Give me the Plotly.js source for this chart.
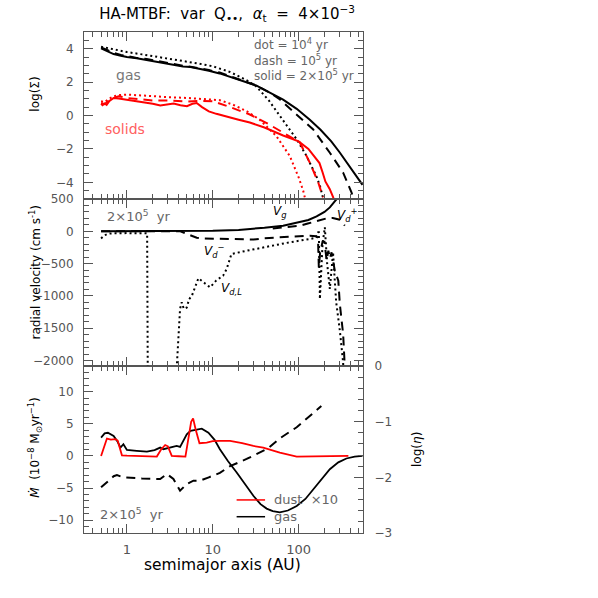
<!DOCTYPE html>
<html>
<head>
<meta charset="utf-8">
<script src="https://cdn.plot.ly/plotly-3.0.1.min.js"></script>
<style>
  body { margin: 0; background: #fff; }
  #chart { width: 598px; height: 598px; }
</style>
</head>
<body>
<div id="chart"></div>
<script>
// ---- top panel: log(Sigma), gas (black) and solids (red) at three times ----
const sigGasSolidX = [0.5, 0.6, 0.7, 0.85, 1, 1.3, 1.7, 2.2, 2.8, 3.5, 4.5, 5.5, 7, 9, 12, 16, 22, 32, 45, 66, 95, 135, 180, 240, 300, 380, 450, 555];
const sigGasSolidY = [4.02, 3.85, 3.68, 3.58, 3.5, 3.43, 3.32, 3.22, 3.12, 3.0, 2.93, 2.9, 2.8, 2.68, 2.52, 2.3, 2.08, 1.8, 1.4, 0.95, 0.4, -0.25, -0.85, -1.55, -2.2, -2.95, -3.5, -4.15];
const sigGasDashX = [0.5, 0.6, 0.7, 0.85, 1, 1.3, 1.7, 2.2, 2.8, 3.5, 4.5, 5.5, 7, 9, 12, 16, 22, 32, 45, 60, 95, 148, 231, 330, 414, 440];
const sigGasDashY = [4.08, 3.9, 3.75, 3.62, 3.55, 3.45, 3.38, 3.27, 3.15, 3.05, 2.98, 2.92, 2.83, 2.72, 2.57, 2.35, 2.1, 1.8, 1.4, 0.98, 0.05, -0.84, -2.23, -3.42, -4.62, -5.1];
const sigGasDotX = [0.5, 0.7, 1, 1.5, 2, 3, 5, 7, 10, 16, 25, 32, 45, 60, 80, 95, 120, 135, 160, 177, 195];
const sigGasDotY = [4.12, 3.95, 3.8, 3.66, 3.56, 3.42, 3.22, 3.1, 2.95, 2.6, 2.1, 1.75, 0.9, 0.0, -0.9, -1.43, -2.3, -2.82, -3.6, -4.2, -5.05];

const sigDustSolidX = [0.5, 0.52, 0.55, 0.58, 0.62, 0.7, 0.8, 1, 1.5, 2, 2.45, 3, 3.5, 4.2, 5, 5.8, 6.5, 7.5, 9, 11, 15, 20, 27, 40, 66, 100, 130, 160, 175, 190, 205, 230, 255];
const sigDustSolidY = [0.7, 0.62, 0.72, 0.64, 0.85, 1.05, 1.02, 0.95, 0.8, 0.7, 0.6, 0.68, 0.72, 0.62, 0.56, 0.7, 0.75, 0.5, 0.25, 0.1, -0.1, -0.25, -0.42, -0.72, -1.2, -1.55, -2.0, -2.6, -2.85, -3.4, -3.95, -4.4, -4.95];
const sigDustDashX = [0.5, 0.55, 0.6, 0.7, 0.8, 1, 1.5, 2, 3, 4, 5, 7, 10, 15, 20, 27, 42, 66, 103, 135, 169, 193];
const sigDustDashY = [0.75, 0.68, 0.85, 1.05, 1.15, 1.05, 0.96, 0.9, 0.9, 0.86, 0.84, 0.88, 0.85, 0.55, 0.3, 0.06, -0.44, -1.03, -1.6, -2.82, -4.0, -4.9];
const sigDustDotX = [0.5, 0.55, 0.62, 0.7, 0.8, 1, 1.5, 2, 3, 5, 7, 10, 12, 17, 25, 35, 55, 79, 100, 113, 120];
const sigDustDotY = [0.85, 0.8, 1.0, 1.15, 1.22, 1.25, 1.2, 1.15, 1.1, 1.05, 1.0, 0.95, 0.92, 0.66, 0.25, -0.24, -1.23, -2.43, -3.7, -4.5, -5.05];

// ---- middle panel: radial velocities at 2e5 yr ----
const vGasX = [0.5, 1, 2, 4, 6, 10, 20, 27, 40, 66, 95, 130, 162, 200, 231, 260, 290];
const vGasY = [0, 0, 0, 0, 4, 10, 22, 35, 55, 87, 135, 175, 230, 300, 370, 450, 530];
const vDustInX = [0.5, 1, 2, 3, 4.2, 5, 6.5, 8, 10, 14.5, 20, 30, 38.7, 60, 95, 135, 160, 168, 172, 178, 190, 200, 212, 222, 232, 242, 264, 290, 302, 330, 345];
const vDustInY = [0, 0, 0, 0, 0, -42, -100, -110, -115, -119, -130, -128, -108, -95, -84, -68, -75, -100, -560, -330, -160, -160, -450, -300, -420, -325, -610, -765, -1125, -1590, -2100];
const vDustOutX = [50, 75, 103, 128, 169, 211, 250, 280, 302, 320, 345];
const vDustOutY = [45, 70, 87, 120, 170, 200, 205, 195, 180, 140, 87];
const vDustLX = [0.5, 0.55, 0.62, 0.7, 1, 1.3, 1.63, 1.72, 1.76, 3.79, 3.81, 4.16, 4.35, 4.6, 4.98, 5.3, 5.7, 6.8, 8, 9.3, 11, 13.2, 14.5, 16.5, 25, 38.7, 79, 135, 160, 169, 172, 177, 190, 202, 215, 231, 240, 252, 262, 274, 300, 330, 350];
const vDustLY = [-110, -60, -35, -30, -28, -28, -28, -30, -3000, -3000, -2090, -1200, -1100, -1200, -1180, -1050, -1000, -727, -800, -867, -760, -687, -584, -351, -300, -248, -170, -119, -100, -15, -15, -1048, -200, 62, -500, -893, -600, -325, -700, -1100, -1500, -2030, -3000];

// ---- bottom panel: mass flux (left axis) and log(eta) (right axis) ----
const mdotGasX = [0.5, 0.55, 0.6, 0.7, 0.78, 0.84, 0.91, 1, 1.3, 1.71, 2.1, 2.44, 2.66, 3.2, 3.8, 4.16, 4.6, 4.98, 5.5, 6.5, 7.45, 8.9, 10.5, 12.1, 15, 19, 24, 29.7, 36, 42.4, 50, 60.4, 75, 95, 120, 148, 190, 231, 290, 360, 450, 555];
const mdotGasY = [2.86, 3.5, 3.6, 3.1, 2.2, 1.3, 1.82, 0.93, 0.8, 0.68, 0.9, 1.3, 1.04, 1.3, 1.55, 1.4, 2.5, 3.37, 3.9, 4.04, 4.25, 3.63, 2.5, 1.04, -0.8, -2.58, -4.5, -6.2, -7.5, -8.2, -8.6, -8.8, -8.5, -7.8, -6.7, -5.2, -3.5, -2.07, -1.0, -0.4, -0.1, 0];
const mdotDustX = [0.5, 0.585, 0.65, 0.73, 0.78, 0.875, 1, 1.5, 2.23, 2.5, 2.79, 3.0, 3.33, 4, 4.8, 5.6, 5.9, 6.3, 7.0, 8.5, 10, 12.1, 15.9, 22, 29.7, 38.7, 60.4, 95, 150, 231, 300, 380];
const mdotDustY = [0, 2.7, 2.55, 2.6, 2.4, 0.1, 0.05, 0.0, -0.1, 1.0, 1.7, 1.5, 0.0, -0.05, -0.1, 5.3, 5.85, 4.2, 1.97, 2.08, 2.3, 2.33, 2.33, 2.0, 1.55, 1.3, 0.53, -0.1, -0.1, 0, 0, 0];
const etaX = [0.5, 0.6, 0.7, 0.765, 0.91, 1.5, 2.44, 2.92, 3.48, 4.16, 4.4, 4.98, 5.95, 7.1, 9, 12.1, 15.9, 24.8, 44, 60.4, 95, 148, 184];
const etaY = [-2.18, -2.07, -1.98, -1.96, -2.0, -2.02, -2.03, -1.94, -2.03, -2.24, -2.2, -2.12, -2.06, -2.06, -2.0, -1.92, -1.8, -1.67, -1.48, -1.3, -1.1, -0.84, -0.72];

const xMajor = [1, 10, 100];
const xMinor = [0.4, 0.5, 0.6, 0.7, 0.8, 0.9, 2, 3, 4, 5, 6, 7, 8, 9, 20, 30, 40, 50, 60, 70, 80, 90, 200, 300, 400, 500];

const FONT = 'DejaVu Sans, Arial, sans-serif';
const AXC = '#555';
const RED = '#ff0000';
const DOT = '2px,3px';
const DASH = '9px,6px';

function line(x, y, color, dash, width, xa, ya) {
    return {
        x: x, y: y, xaxis: xa, yaxis: ya,
        type: 'scatter', mode: 'lines', hoverinfo: 'skip',
        line: { color: color, dash: dash, width: width, shape: 'linear' }
    };
}

const traces = [
    // top
    line(sigGasDotX, sigGasDotY, 'black', DOT, 2, 'x3', 'y3'),
    line(sigGasDashX, sigGasDashY, 'black', DASH, 2, 'x3', 'y3'),
    line(sigGasSolidX, sigGasSolidY, 'black', 'solid', 2, 'x3', 'y3'),
    line(sigDustDotX, sigDustDotY, RED, DOT, 2, 'x3', 'y3'),
    line(sigDustDashX, sigDustDashY, RED, DASH, 2, 'x3', 'y3'),
    line(sigDustSolidX, sigDustSolidY, RED, 'solid', 2, 'x3', 'y3'),
    // middle
    line(vDustLX, vDustLY, 'black', DOT, 2, 'x2', 'y2'),
    line(vDustInX, vDustInY, 'black', DASH, 2, 'x2', 'y2'),
    line(vDustOutX, vDustOutY, 'black', DASH, 2, 'x2', 'y2'),
    line(vGasX, vGasY, 'black', 'solid', 2, 'x2', 'y2'),
    // bottom
    line(etaX, etaY, 'black', DASH, 2, 'x', 'y4'),
    line(mdotGasX, mdotGasY, 'black', 'solid', 1.8, 'x', 'y'),
    line(mdotDustX, mdotDustY, RED, 'solid', 1.8, 'x', 'y')
];

const tickFont = { family: FONT, size: 12, color: AXC };
const minorX = { tickmode: 'array', tickvals: xMinor, ticks: 'inside', ticklen: 5, tickcolor: AXC };

function xAxis(anchor, labels) {
    return {
        type: 'log', range: [-0.5, 2.75], anchor: anchor,
        showgrid: false, zeroline: false,
        showline: true, linecolor: AXC, linewidth: 1, mirror: 'ticks',
        ticks: 'inside', ticklen: 9, tickcolor: AXC,
        tickmode: 'array', tickvals: xMajor, ticktext: ['1', '10', '100'],
        showticklabels: labels, tickfont: { family: FONT, size: 13, color: AXC },
        ticklabelstandoff: 4,
        minor: minorX
    };
}

function yAxis(domain, range, dtick, minor, mirror) {
    return {
        domain: domain, range: range, anchor: 'x',
        showgrid: false, zeroline: false,
        showline: true, linecolor: AXC, linewidth: 1, mirror: mirror,
        ticks: 'inside', ticklen: 9, tickcolor: AXC,
        tick0: 0, dtick: dtick, tickfont: tickFont, ticklabelstandoff: 7,
        minor: { dtick: minor, tick0: 0, ticks: 'inside', ticklen: 5, tickcolor: AXC }
    };
}

const yBottom = yAxis([0, 1 / 3], [-12, 14], 5, 1, false);
const yMiddle = yAxis([1 / 3, 2 / 3], [-2085, 500], 500, 100, 'ticks');
yMiddle.anchor = 'x2';
const yTop = yAxis([2 / 3, 1], [-5, 5], 2, 0.5, 'ticks');
yTop.anchor = 'x3';
const yEta = yAxis([0, 1 / 3], [-3, 0], 1, 0.2, false);
yEta.overlaying = 'y';
yEta.side = 'right';
yEta.ticklabelstandoff = 8;

function note(text, x, y, opts) {
    return Object.assign({
        text: text, xref: 'paper', yref: 'paper', x: x, y: y,
        showarrow: false, xanchor: 'left', yanchor: 'middle',
        font: { family: FONT, size: 13, color: '#666' }
    }, opts || {});
}

const small = { family: FONT, size: 12, color: '#666' };

const annotations = [
    // axis titles
    note('log(Σ)', -0.1756, 0.875, { xanchor: 'center', textangle: -90, font: { family: FONT, size: 12, color: 'black' } }),
    note('radial velocity (cm s<sup>-1</sup>)', -0.1756, 0.52, { xanchor: 'center', textangle: -90, font: { family: FONT, size: 12, color: 'black' } }),
    note('<i>Ṁ</i>  (10<sup>−8</sup> M<sub>⊙</sub>yr<sup>−1</sup>)', -0.1756, 0.17, { xanchor: 'center', textangle: -90, font: { family: FONT, size: 12, color: 'black' } }),
    note('log(<i>η</i>)', 1.194, 0.166, { xanchor: 'center', textangle: -90, font: { family: FONT, size: 12, color: 'black' } }),
    note('semimajor axis (AU)', 0.496, -0.064, { xanchor: 'center', font: { family: FONT, size: 15.5, color: 'black' } }),
    // top panel labels
    note('gas', 0.161, 0.914, { xanchor: 'center', font: { family: FONT, size: 14, color: '#777' } }),
    note('solids', 0.147, 0.806, { xanchor: 'center', font: { family: FONT, size: 14, color: '#ff6060' } }),
    note('dot = 10<sup>4</sup> yr<br>dash = 10<sup>5</sup> yr<br>solid = 2×10<sup>5</sup> yr', 0.602, 0.946, { font: small, align: 'left' }),
    // middle panel labels
    note('2×10<sup>5</sup>  yr', 0.075, 0.633),
    note('<i>V<sub>g</sub></i>', 0.703, 0.641, { xanchor: 'center', font: { family: FONT, size: 12, color: 'black' } }),
    note('<i>V<sub>d</sub><sup>−</sup></i>', 0.466, 0.563, { xanchor: 'center', font: { family: FONT, size: 12, color: 'black' } }),
    note('<i>V<sub>d,L</sub></i>', 0.527, 0.487, { xanchor: 'center', font: { family: FONT, size: 12, color: 'black' } }),
    note('<i>V<sub>d</sub><sup>+</sup></i>', 0.946, 0.635, { xanchor: 'center', font: { family: FONT, size: 12, color: 'black' } }),
    // bottom panel labels
    note('2×10<sup>5</sup>  yr', 0.05, 0.038),
    note('dust  ×10', 0.673, 0.066),
    note('gas', 0.673, 0.0325)
];

// legend swatches for the bottom panel
const shapes = [
    { type: 'line', xref: 'paper', yref: 'paper', x0: 0.547, x1: 0.649, y0: 0.066, y1: 0.066, line: { color: RED, width: 1.5 } },
    { type: 'line', xref: 'paper', yref: 'paper', x0: 0.547, x1: 0.649, y0: 0.0325, y1: 0.0325, line: { color: 'black', width: 1.5 } }
];

const layout = {
    width: 598, height: 598,
    margin: { l: 84, r: 235, t: 32, b: 65 },
    paper_bgcolor: 'white', plot_bgcolor: 'white',
    showlegend: false,
    font: { family: FONT },
    title: {
        text: 'HA-MTBF:  var  Q<sub>••</sub>,  <i>α</i><sub>t</sub>  =  4×10<sup>−3</sup>',
        xref: 'paper', x: 0.513, xanchor: 'center',
        yref: 'container', y: 0.977, yanchor: 'middle',
        font: { family: FONT, size: 15, color: 'black' }
    },
    xaxis: xAxis('y', true),
    xaxis2: Object.assign(xAxis('y2', false), { matches: 'x' }),
    xaxis3: Object.assign(xAxis('y3', false), { matches: 'x' }),
    yaxis: yBottom,
    yaxis2: yMiddle,
    yaxis3: yTop,
    yaxis4: yEta,
    annotations: annotations,
    shapes: shapes
};

Plotly.newPlot('chart', traces, layout, { displayModeBar: false, staticPlot: true });
</script>
</body>
</html>
